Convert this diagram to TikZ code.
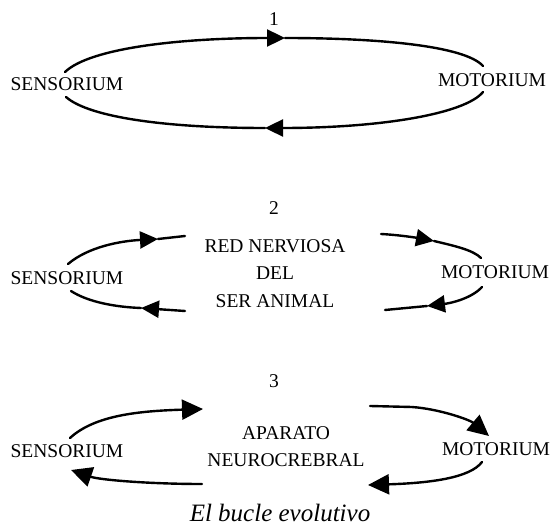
\documentclass[tikz,border=0pt]{standalone}
\usepackage{fontspec}
\setmainfont{Liberation Serif}
\usetikzlibrary{arrows.meta}
\begin{document}
\begin{tikzpicture}[x=1pt,y=-1pt,
  lbl/.style={inner sep=0pt, font=\fontsize{19.5}{27.5}\selectfont},
  blk/.style={lbl, align=center},
  ln/.style={line width=2.4pt, line cap=round},
  arr/.style={ln, -{Triangle[length=18pt,width=17pt]}},
  bigarr/.style={ln, -{Triangle[length=21pt,width=20pt]}},
  captxt/.style={inner sep=0pt, anchor=base, font=\fontsize{25}{30}\selectfont\itshape}
]
\useasboundingbox (0,0) rectangle (555,527);

% ---------- 1 ----------
\node[lbl] (n1) at (274,19) {1};
\node[lbl] (s1) at (67,84) {SENSORIUM};
\node[lbl] (m1) at (492,80) {MOTORIUM};
\coordinate (a1) at (65,72);
\coordinate (t1) at (285,38);
\coordinate (b1) at (483,66);
\coordinate (c1) at (483,92);
\coordinate (u1) at (265,128);
\coordinate (d1) at (66,97);
\draw[arr] (a1) .. controls (90,48) and (180,38) .. (t1);
\draw[ln] (t1) .. controls (380,38) and (465,46) .. (b1);
\draw[arr] (c1) .. controls (465,114) and (380,128) .. (u1);
\draw[ln] (u1) .. controls (170,128) and (90,118) .. (d1);

% ---------- 2 ----------
\node[lbl] (n2) at (274,208) {2};
\node[lbl] (s2) at (67,278) {SENSORIUM};
\node[lbl] (m2) at (495,272) {MOTORIUM};
\node[blk] (r2) at (275,273.5) {RED NERVIOSA\\DEL\\SER ANIMAL};
\coordinate (a2) at (68,264);
\coordinate (t2) at (158,239);
\coordinate (e2) at (185,236);
\coordinate (d2) at (71,291);
\coordinate (u2) at (141,308);
\coordinate (f2) at (185,311);
\coordinate (g2) at (381,234);
\coordinate (v2) at (434,241);
\coordinate (b2) at (481,258);
\coordinate (c2) at (482,287);
\coordinate (w2) at (427,306);
\coordinate (h2) at (385,310);
\draw[arr] (a2) .. controls (88,247) and (120,241) .. (t2);
\draw[ln] (t2) -- (e2);
\draw[ln] (d2) .. controls (88,302) and (115,307) .. (u2);
\draw[arr] (f2) -- (u2);
\draw[arr] (g2) .. controls (400,235) and (418,238) .. (v2);
\draw[ln] (v2) .. controls (455,246) and (473,250) .. (b2);
\draw[arr] (c2) .. controls (472,298) and (452,303) .. (w2);
\draw[ln] (w2) -- (h2);

% ---------- 3 ----------
\node[lbl] (n3) at (274,381) {3};
\node[lbl] (s3) at (67,451) {SENSORIUM};
\node[lbl] (m3) at (496,449) {MOTORIUM};
\node[blk] (ap) at (286,446.5) {APARATO\\NEUROCREBRAL};
\coordinate (a3) at (70,438);
\coordinate (t3) at (203,409);
\coordinate (f3) at (202,484);
\coordinate (u3) at (71,470);
\coordinate (g3) at (370,406);
\coordinate (v3) at (489,436);
\coordinate (c3) at (482,462);
\coordinate (w3) at (368,485);
\draw[bigarr] (a3) .. controls (95,415) and (140,411) .. (t3);
\draw[bigarr] (f3) .. controls (150,484) and (100,480) .. (u3);
\draw[bigarr] (g3) -- (412,407) .. controls (440,409) and (470,420) .. (v3);
\draw[bigarr] (c3) .. controls (470,478) and (430,483) .. (w3);

\node[captxt] (cp) at (280,521) {El bucle evolutivo};
\end{tikzpicture}
\end{document}
